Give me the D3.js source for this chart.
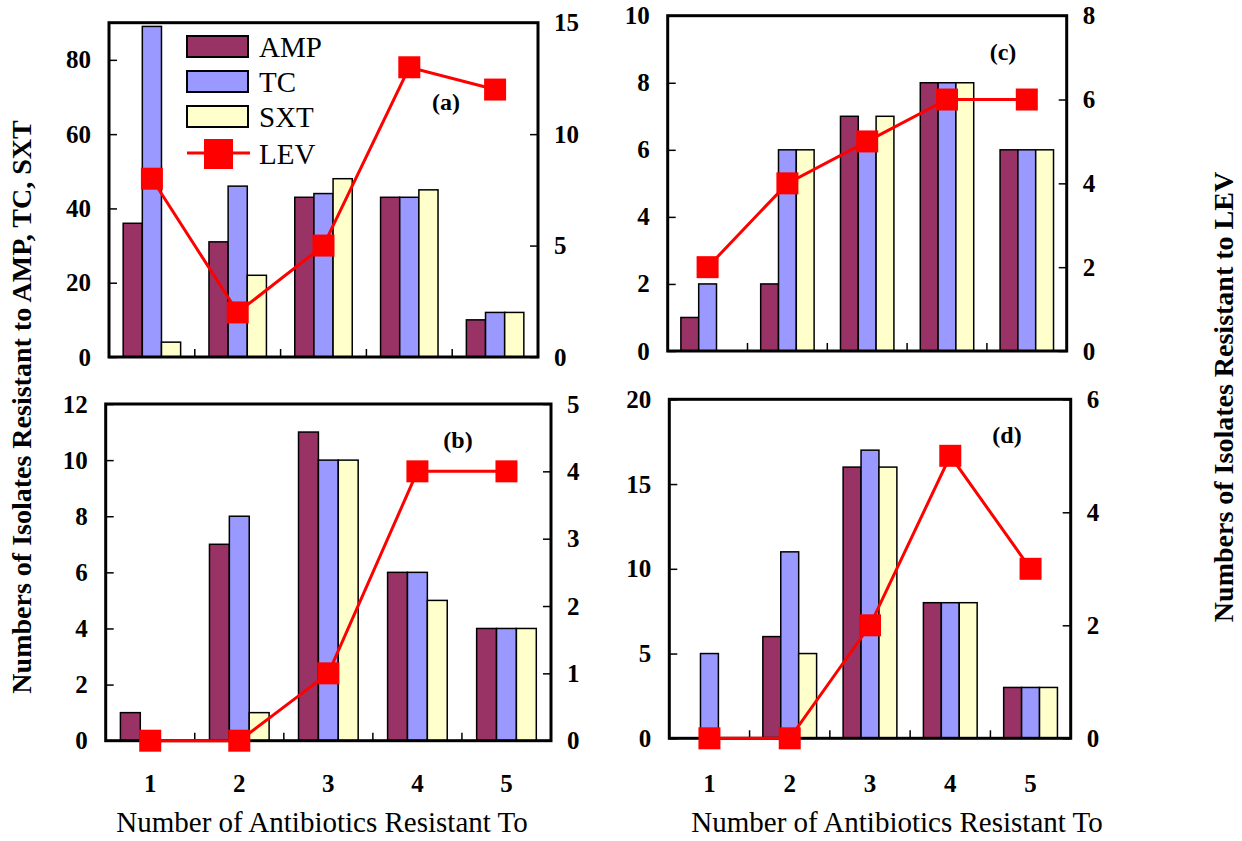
<!DOCTYPE html>
<html><head><meta charset="utf-8">
<script src="https://cdn.jsdelivr.net/npm/d3@7"></script>
<style>
html,body{margin:0;padding:0;background:#fff;}
svg{display:block;}
text{font-family:"Liberation Serif","Times New Roman",serif;}
</style></head>
<body>
<svg id="chart" width="1242" height="841"></svg>
<script>
const categories = ["1","2","3","4","5"];
const seriesNames = ["AMP","TC","SXT"];
const seriesColors = ["#993366","#9999FF","#FFFFCC"];
const levColor = "#FF0000";

// panel (a)
const AMP_A = [36,31,43,43,10];
const TC_A  = [89,46,44,43,12];
const SXT_A = [4,22,48,45,12];
const LEV_A = [8,2,5,13,12];
// panel (b)
const AMP_B = [1,7,11,6,4];
const TC_B  = [0,8,10,6,4];
const SXT_B = [0,1,10,5,4];
const LEV_B = [0,0,1,4,4];
// panel (c)
const AMP_C = [1,2,7,8,6];
const TC_C  = [2,6,6,8,6];
const SXT_C = [0,6,7,8,6];
const LEV_C = [2,4,5,6,6];
// panel (d)
const AMP_D = [0,6,16,8,3];
const TC_D  = [5,11,17,8,3];
const SXT_D = [0,5,16,8,3];
const LEV_D = [0,0,2,5,3];

// axis tick values
const leftTicksA = [0,20,40,60,80];
const rightTicksA = [0,5,10,15];
const leftTicksB = [0,2,4,6,8,10,12];
const rightTicksB = [0,1,2,3,4,5];
const leftTicksC = [0,2,4,6,8,10];
const rightTicksC = [0,2,4,6,8];
const leftTicksD = [0,5,10,15,20];
const rightTicksD = [0,2,4,6];

const panels = [
  {label:"(a)", box:[109,22.7,538,357], left:[0,90], right:[0,15], lt:leftTicksA, rt:rightTicksA,
   bars:[AMP_A,TC_A,SXT_A], lev:LEV_A, xlabels:false, legend:true, lab:[446,110]},
  {label:"(b)", box:[105.7,404,551,740.7], left:[0,12], right:[0,5], lt:leftTicksB, rt:rightTicksB,
   bars:[AMP_B,TC_B,SXT_B], lev:LEV_B, xlabels:true, legend:false, lab:[458,448]},
  {label:"(c)", box:[667.7,15.7,1066.7,351], left:[0,10], right:[0,8], lt:leftTicksC, rt:rightTicksC,
   bars:[AMP_C,TC_C,SXT_C], lev:LEV_C, xlabels:false, legend:false, lab:[1003,60]},
  {label:"(d)", box:[669.3,399.3,1070.7,738.3], left:[0,20], right:[0,6], lt:leftTicksD, rt:rightTicksD,
   bars:[AMP_D,TC_D,SXT_D], lev:LEV_D, xlabels:true, legend:false, lab:[1007,443]}
];

const svg = d3.select("#chart");

panels.forEach(p => {
  const [x0,y0,x1,y1] = p.box;
  const g = svg.append("g");
  const x = d3.scaleBand().domain(categories).range([x0,x1]).paddingInner(0).paddingOuter(0);
  const xs = d3.scaleBand().domain(seriesNames).range([0,x.bandwidth()]).paddingInner(0).paddingOuter(0.74);
  const yL = d3.scaleLinear().domain(p.left).range([y1,y0]);
  const yR = d3.scaleLinear().domain(p.right).range([y1,y0]);

  // bars
  seriesNames.forEach((s,si) => {
    const vals = p.bars[si];
    g.append("g").selectAll("rect").data(categories.map((c,i)=>({c,v:vals[i]})).filter(d=>d.v>0))
      .join("rect")
      .attr("x", d => x(d.c)+xs(s))
      .attr("width", xs.bandwidth())
      .attr("y", d => yL(d.v))
      .attr("height", d => yL(0)-yL(d.v))
      .attr("fill", seriesColors[si])
      .attr("stroke","#000").attr("stroke-width",1.5);
  });

  // left axis
  const axL = g.append("g").attr("transform",`translate(${x0},0)`)
    .call(d3.axisLeft(yL).tickValues(p.lt).tickSize(-8).tickPadding(18).tickFormat(d3.format("d")));
  axL.select(".domain").remove();
  axL.selectAll("line").attr("stroke","#000").attr("stroke-width",1.5);
  axL.selectAll("text").attr("font-size",25).attr("font-weight","bold").attr("fill","#000")
     .attr("font-family","Liberation Serif");
  // right axis
  const axR = g.append("g").attr("transform",`translate(${x1},0)`)
    .call(d3.axisRight(yR).tickValues(p.rt).tickSize(-8).tickPadding(16).tickFormat(d3.format("d")));
  axR.select(".domain").remove();
  axR.selectAll("line").attr("stroke","#000").attr("stroke-width",1.5);
  axR.selectAll("text").attr("font-size",25).attr("font-weight","bold").attr("fill","#000")
     .attr("font-family","Liberation Serif");

  // x ticks at group boundaries (inward)
  g.append("g").selectAll("line").data(categories.slice(1)).join("line")
    .attr("x1", d=>x(d)).attr("x2", d=>x(d))
    .attr("y1", y1).attr("y2", y1-8)
    .attr("stroke","#000").attr("stroke-width",1.5);

  if (p.xlabels) {
    const axB = g.append("g").attr("transform",`translate(0,${y1})`)
      .call(d3.axisBottom(x).tickSize(0).tickPadding(0));
    axB.select(".domain").remove();
    axB.selectAll("text").attr("y", 792-y1).attr("dy","0")
      .attr("font-size",25).attr("font-weight","bold").attr("fill","#000")
      .attr("font-family","Liberation Serif");
  }

  // frame
  g.append("rect").attr("x",x0).attr("y",y0).attr("width",x1-x0).attr("height",y1-y0)
    .attr("fill","none").attr("stroke","#000").attr("stroke-width",3);

  // LEV line
  const cx = c => x(c)+x.bandwidth()/2;
  const line = d3.line().x(d=>cx(d.c)).y(d=>yR(d.v));
  const levData = categories.map((c,i)=>({c,v:p.lev[i]}));
  g.append("path").datum(levData).attr("d",line)
    .attr("fill","none").attr("stroke",levColor).attr("stroke-width",3);
  const ms = 22;
  g.append("g").selectAll("rect").data(levData).join("rect")
    .attr("x", d=>cx(d.c)-ms/2).attr("y", d=>yR(d.v)-ms/2)
    .attr("width",ms).attr("height",ms).attr("fill",levColor);

  // panel label
  g.append("text").attr("x",p.lab[0]).attr("y",p.lab[1]).attr("text-anchor","middle")
    .attr("font-size",24).attr("font-weight","bold").text(p.label);

  if (p.legend) {
    const lg = g.append("g");
    const rows = [36,71,106];
    seriesNames.forEach((s,i)=>{
      lg.append("rect").attr("x",187).attr("y",rows[i]).attr("width",61).attr("height",21)
        .attr("fill",seriesColors[i]).attr("stroke","#000").attr("stroke-width",2);
      lg.append("text").attr("x",259).attr("y",rows[i]+21).attr("font-size",29).text(s);
    });
    lg.append("line").attr("x1",187).attr("x2",250).attr("y1",153).attr("y2",153)
      .attr("stroke",levColor).attr("stroke-width",3);
    lg.append("rect").attr("x",204).attr("y",139).attr("width",29).attr("height",30).attr("fill",levColor);
    lg.append("text").attr("x",259).attr("y",164).attr("font-size",29).text("LEV");
  }
});

// axis titles
svg.append("text").attr("x",322).attr("y",832).attr("text-anchor","middle")
  .attr("font-size",29).text("Number of Antibiotics Resistant To");
svg.append("text").attr("x",897).attr("y",832).attr("text-anchor","middle")
  .attr("font-size",29).text("Number of Antibiotics Resistant To");
svg.append("text").attr("transform","translate(31,407) rotate(-90)").attr("text-anchor","middle")
  .attr("font-size",28).attr("font-weight","bold").text("Numbers of Isolates Resistant to AMP, TC, SXT");
svg.append("text").attr("transform","translate(1233,397) rotate(-90)").attr("text-anchor","middle")
  .attr("font-size",28).attr("font-weight","bold").text("Numbers of Isolates Resistant to LEV");
</script>
</body></html>
